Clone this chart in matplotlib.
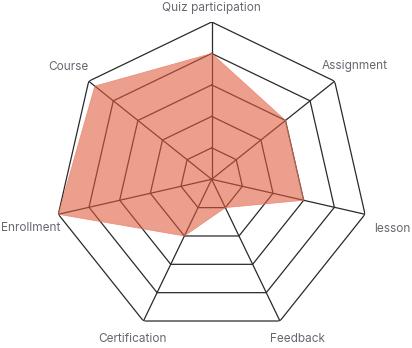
import numpy as np
import matplotlib
matplotlib.use("Agg")
import matplotlib.pyplot as plt

categories = ["Quiz participation", "Assignment", "lesson", "Feedback",
              "Certification", "Enrollment", "Course"]
values = [80, 60, 60, 20, 40, 100, 95]
max_value = 100
ring_levels = [20, 40, 60, 80, 100]

# label offsets (pixels) from each outer vertex
label_offsets = [(0, 14), (20, 15), (27, -15), (18, -18), (-11, -18), (-28, -14), (-20, 14)]

plt.rcParams['font.family'] = ['Inter', 'DejaVu Sans']

fig = plt.figure(figsize=(4.12, 3.48), dpi=100)
ax = fig.add_axes([0.1320, 0.0328, 0.7636, 0.9040], projection='polar')
ax.set_theta_offset(np.pi / 2)
ax.set_theta_direction(-1)
ax.set_ylim(0, max_value)
ax.grid(False)
ax.spines['polar'].set_visible(False)
ax.set_xticks([])
ax.set_yticks([])
ax.patch.set_alpha(0)

n = len(categories)
angles = np.arange(n) * 2 * np.pi / n
closed = np.concatenate([angles, angles[:1]])

grid_color = '#2a2a2a'
for lvl in ring_levels:
    ax.plot(closed, [lvl] * (n + 1), color=grid_color, lw=0.9, zorder=1)
for a in angles:
    ax.plot([a, a], [0, max_value], color=grid_color, lw=0.9, zorder=1)

vals = np.array(values + values[:1], dtype=float)
ax.fill(closed, vals, color='#e05a3c', alpha=0.58, lw=0, zorder=2)
ax.plot(closed, vals, color='#ec7a62', lw=0.5, alpha=0.8, zorder=2)

for a, lab, (dx, dy) in zip(angles, categories, label_offsets):
    ax.annotate(lab, xy=(a, max_value), xytext=(dx, dy), textcoords='offset pixels',
                ha='center', va='center', fontsize=8.5, color='#666870',
                annotation_clip=False)

fig.savefig("out.png", dpi=100)
